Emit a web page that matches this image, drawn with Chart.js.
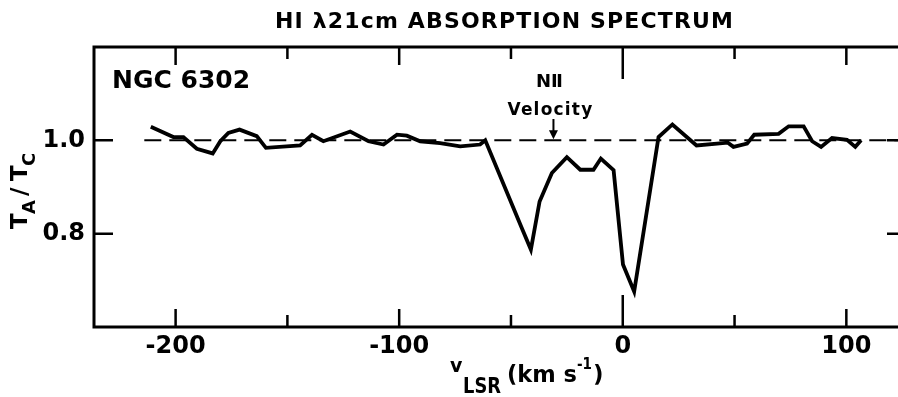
<!DOCTYPE html>
<html>
<head>
<meta charset="utf-8">
<script src="https://cdn.jsdelivr.net/npm/chart.js@4/dist/chart.umd.min.js"></script>
<style>
  html, body { margin: 0; padding: 0; background: #fff; overflow: hidden; }
  #wrap { width: 910px; height: 397px; }
</style>
</head>
<body>
<div id="wrap"><canvas id="spectrum" width="910" height="397"></canvas></div>
<script>
// HI 21cm absorption toward NGC 6302
const velocity = [
  -211.1, -201.0, -196.5, -190.5, -183.4, -180.0, -176.4, -171.4, -163.7, -159.6,
  -144.3, -139.0, -133.9, -121.9, -113.7, -107.0, -101.0, -96.6, -90.6, -81.7,
  -72.7, -63.8, -61.5, -45.5, -41.1, -37.2, -31.7, -25.0, -19.0, -13.1,
  -9.8, -4.1, 0.1, 5.1, 16.0, 22.2, 33.0, 47.0, 49.5, 55.6,
  58.8, 69.7, 74.2, 80.9, 84.7, 88.7, 93.6, 100.3, 104.0, 106.6
];
const ratio = [
  1.029, 1.007, 1.007, 0.982, 0.972, 0.998, 1.016, 1.023, 1.009, 0.984,
  0.989, 1.012, 0.998, 1.019, 0.998, 0.991, 1.012, 1.010, 0.998, 0.994,
  0.987, 0.991, 1.000, 0.816, 0.766, 0.869, 0.930, 0.964, 0.937, 0.937,
  0.961, 0.936, 0.734, 0.676, 1.007, 1.034, 0.989, 0.995, 0.986, 0.993,
  1.012, 1.014, 1.030, 1.030, 0.998, 0.986, 1.005, 1.001, 0.986, 1.000
];

const xMajorTicks = [-200, -100, 0, 100];
const xMinorTicks = [-150, -50, 50];
const yTicks = [0.8, 1.0];
const continuumRange = [-214, 124];   // dashed line at T_A/T_C = 1
const niiVelocity = -31;

const FONT = "'DejaVu Sans', sans-serif";

function drawText(ctx, text, x, y, size, opts) {
  opts = opts || {};
  ctx.font = 'bold ' + size + 'px ' + FONT;
  ctx.textAlign = opts.align || 'left';
  ctx.textBaseline = 'alphabetic';
  ctx.letterSpacing = (opts.spacing || 0) + 'px';
  if (opts.maxWidth) {
    ctx.fillText(text, x, y, opts.maxWidth);
  } else {
    ctx.fillText(text, x, y);
  }
  ctx.letterSpacing = '0px';
}

// frame, inward ticks and all the annotations
const decorations = {
  id: 'decorations',
  afterDraw(chart) {
    const ctx = chart.ctx;
    const { left, right, top, bottom } = chart.chartArea;
    const xs = chart.scales.x, ys = chart.scales.y;
    ctx.save();
    ctx.strokeStyle = '#000';
    ctx.fillStyle = '#000';

    // box
    ctx.lineWidth = 3;
    ctx.strokeRect(left, top, right - left, bottom - top);

    // x ticks, top and bottom, pointing inward
    ctx.lineWidth = 2.5;
    const xtick = (v, len) => {
      const px = xs.getPixelForValue(v);
      ctx.beginPath();
      ctx.moveTo(px, bottom); ctx.lineTo(px, bottom - len);
      ctx.moveTo(px, top); ctx.lineTo(px, top + len);
      ctx.stroke();
    };
    xMajorTicks.forEach(v => xtick(v, v === 0 ? 32 : 18));
    xMinorTicks.forEach(v => xtick(v, 12));

    yTicks.forEach(v => {
      const py = ys.getPixelForValue(v);
      ctx.beginPath();
      ctx.moveTo(left, py); ctx.lineTo(left + 19, py);
      ctx.moveTo(right, py); ctx.lineTo(right - 13, py);
      ctx.stroke();
    });

    // title
    ctx.font = 'bold 22px ' + FONT;
    const title = 'HI \u03bb21cm ABSORPTION SPECTRUM';
    const w = ctx.measureText(title).width;
    const spacing = (458 - w) / (title.length - 1);
    drawText(ctx, title, 275, 28, 22, { spacing: spacing });

    // object label
    drawText(ctx, 'NGC 6302', 112, 88, 25);

    // NII velocity marker
    const ax = xs.getPixelForValue(niiVelocity);
    const ay = ys.getPixelForValue(1.0);
    drawText(ctx, 'N\u2161', ax - 4, 87, 18, { align: 'center' });
    drawText(ctx, 'Velocity', ax - 3, 115, 17, { align: 'center', spacing: 1.2 });
    ctx.lineWidth = 2;
    ctx.beginPath();
    ctx.moveTo(ax, 119); ctx.lineTo(ax, ay - 6);
    ctx.stroke();
    ctx.beginPath();
    ctx.moveTo(ax - 4.5, ay - 10); ctx.lineTo(ax + 4.5, ay - 10); ctx.lineTo(ax, ay - 1);
    ctx.closePath();
    ctx.fill();

    // x axis title: v_LSR (km s^-1)
    drawText(ctx, 'v', 450, 372, 19);
    drawText(ctx, 'LSR', 463, 393, 22, { maxWidth: 38 });
    drawText(ctx, '(km s', 507, 382, 23, { maxWidth: 70 });
    drawText(ctx, '-1', 577, 369, 15, { maxWidth: 15 });
    drawText(ctx, ')', 593, 382, 23);

    // y axis title: T_A / T_C, rotated
    ctx.translate(27, 229);
    ctx.rotate(-Math.PI / 2);
    drawText(ctx, 'T', 0, 0, 23);
    drawText(ctx, 'A', 15, 8, 18);
    drawText(ctx, '/', 33, 0, 23);
    drawText(ctx, 'T', 48, 0, 23);
    drawText(ctx, 'C', 63, 8, 18);

    ctx.restore();
  }
};

const points = velocity.map((v, i) => ({ x: v, y: ratio[i] }));
const continuum = continuumRange.map(v => ({ x: v, y: 1.0 }));

new Chart(document.getElementById('spectrum'), {
  type: 'line',
  data: {
    datasets: [
      {
        label: 'T_A/T_C',
        data: points,
        borderColor: '#000',
        borderWidth: 3.8,
        pointRadius: 0,
        tension: 0,
        borderJoinStyle: 'miter',
        fill: false
      },
      {
        label: 'continuum',
        data: continuum,
        borderColor: '#000',
        borderWidth: 2,
        borderDash: [17, 8],
        pointRadius: 0,
        fill: false
      }
    ]
  },
  options: {
    responsive: false,
    animation: false,
    events: [],
    layout: { padding: { top: 47, right: 10, left: 0, bottom: 0 } },
    plugins: {
      legend: { display: false },
      tooltip: { enabled: false },
      title: { display: false }
    },
    scales: {
      x: {
        type: 'linear',
        min: -236.5,
        max: 124,
        grid: { display: false, drawTicks: false },
        border: { display: false },
        afterBuildTicks: s => { s.ticks = xMajorTicks.map(v => ({ value: v })); },
        afterFit: s => { s.height = 70; },
        ticks: {
          autoSkip: false,
          maxRotation: 0,
          padding: 5,
          color: '#000',
          font: { family: FONT, size: 24, weight: 'bold' },
          callback: v => String(v)
        }
      },
      y: {
        min: 0.6,
        max: 1.2,
        grid: { display: false, drawTicks: false },
        border: { display: false },
        afterBuildTicks: s => { s.ticks = yTicks.map(v => ({ value: v })); },
        afterFit: s => { s.width = 94; },
        ticks: {
          padding: 9,
          color: '#000',
          font: { family: FONT, size: 24, weight: 'bold' },
          callback: v => v.toFixed(1)
        }
      }
    }
  },
  plugins: [decorations]
});
</script>
</body>
</html>
